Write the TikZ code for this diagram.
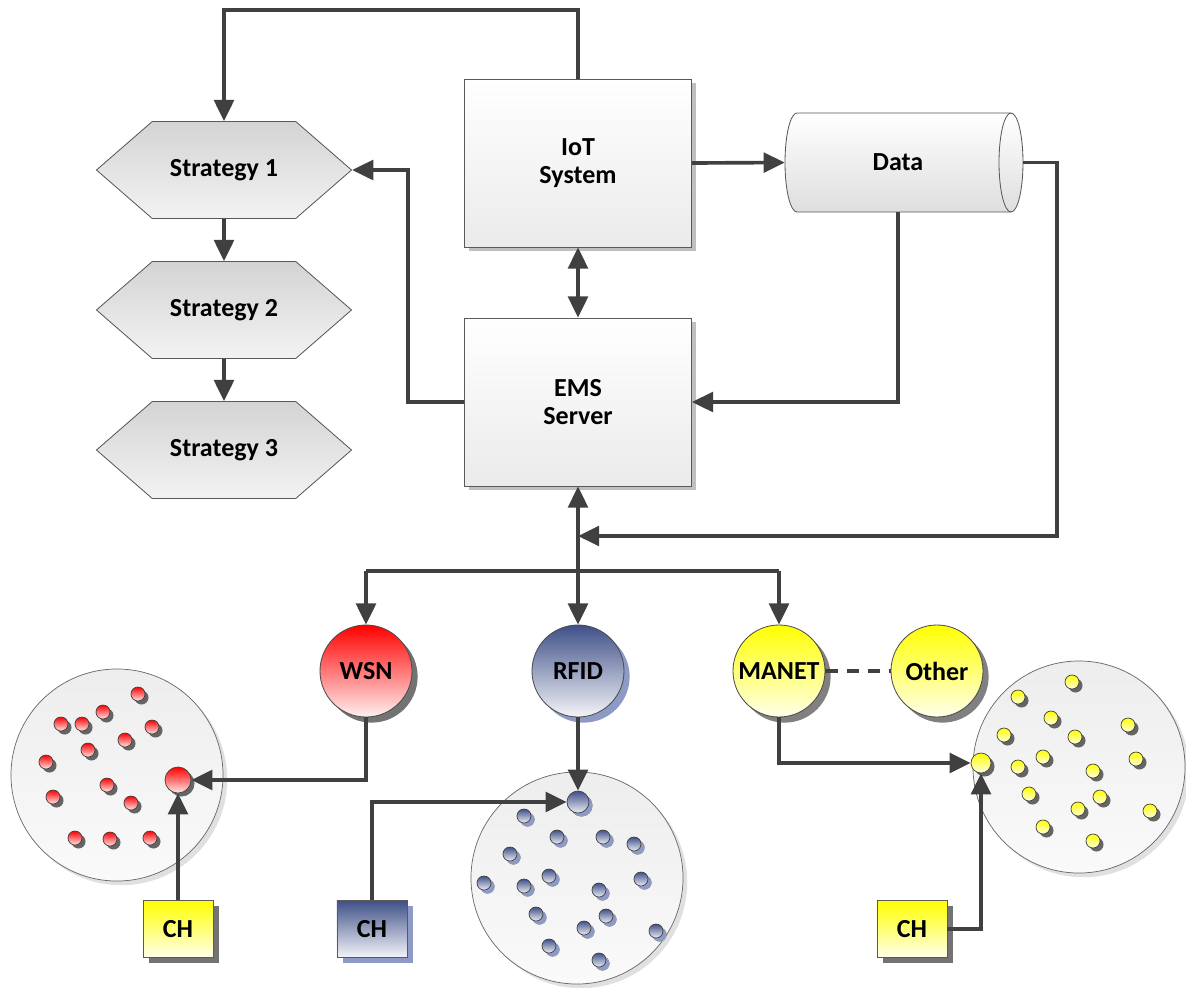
\documentclass[tikz,border=0pt]{standalone}
\usepackage{fontspec}
\setmainfont{Carlito}
\usetikzlibrary{arrows.meta,shapes.symbols,shadows,calc}
\definecolor{ln}{HTML}{404040}
\definecolor{rfidtop}{HTML}{3F5089}
\definecolor{rfidsh}{HTML}{8E9AC6}
\definecolor{yel}{HTML}{FFFF00}
\begin{document}
\begin{tikzpicture}[x=0.025cm,y=-0.025cm,
  font=\fontsize{18.5}{20}\selectfont\bfseries,
  conn/.style={draw=ln,line width=2.6pt},
  arr/.style={conn,-{Triangle[length=15pt,width=14pt]}},
  darr/.style={conn,{Triangle[length=15pt,width=14pt]}-{Triangle[length=15pt,width=14pt]}},
  hexa/.style={signal,signal to=east and west,signal pointer angle=82,draw=black!65,line width=0.6pt,
     minimum width=6.375cm,minimum height=2.425cm,inner sep=0pt,top color=black!17,bottom color=black!5,align=center},
  sbox/.style={rectangle,draw=black!65,line width=0.6pt,minimum width=5.675cm,minimum height=4.2cm,
     top color=white,bottom color=black!8,align=center,
     drop shadow={shadow xshift=3pt,shadow yshift=-3pt,opacity=0.25,fill=black}},
  net/.style={circle,draw=black!70,line width=0.6pt,minimum size=2.3cm,inner sep=0pt},
  wsnst/.style={net,top color=red,bottom color=red!6,drop shadow={shadow xshift=4pt,shadow yshift=-4pt,fill=black!55,opacity=1}},
  rfidst/.style={net,top color=rfidtop,bottom color=rfidtop!6,drop shadow={shadow xshift=4pt,shadow yshift=-4pt,fill=rfidsh,opacity=1}},
  yelst/.style={net,top color=yel,bottom color=yel!8,drop shadow={shadow xshift=4pt,shadow yshift=-4pt,fill=black!50,opacity=1}},
  clus/.style={circle,draw=black!60,line width=0.5pt,minimum size=5.3cm,top color=black!7,bottom color=black!2,
     drop shadow={shadow xshift=3pt,shadow yshift=-3pt,opacity=0.12,fill=black}},
  dot/.style={circle,draw=black!75,line width=0.5pt,minimum size=0.35cm,inner sep=0pt,
     drop shadow={shadow xshift=2.5pt,shadow yshift=-2.5pt,fill=black!70,opacity=0.85}},
  rdot/.style={dot,top color=red,bottom color=red!10},
  bdot/.style={dot,top color=rfidtop,bottom color=rfidtop!10,drop shadow={shadow xshift=2.5pt,shadow yshift=-2.5pt,fill=rfidsh,opacity=1}},
  ydot/.style={dot,top color=yel,bottom color=yel!12},
  chbox/.style={rectangle,draw=black!65,line width=0.6pt,minimum width=1.75cm,minimum height=1.425cm,inner sep=0pt},
  chy/.style={chbox,top color=yel,bottom color=yel!8,drop shadow={shadow xshift=4pt,shadow yshift=-4pt,fill=black!55,opacity=1}},
  chb/.style={chbox,top color=rfidtop,bottom color=rfidtop!6,drop shadow={shadow xshift=4pt,shadow yshift=-4pt,fill=rfidsh,opacity=1}}
]
\useasboundingbox (0,0) rectangle (1186,988);

% strategies
\node[hexa] (s1) at (224,170) {Strategy 1};
\node[hexa] (s2) at (224,310) {Strategy 2};
\node[hexa] (s3) at (224,450) {Strategy 3};

% boxes
\node[sbox] (iot) at (578,163) {IoT\\System};
\node[sbox] (ems) at (578,402) {EMS\\Server};

% data cylinder
\path[top color=white,bottom color=black!13,draw=black!65,line width=0.6pt]
  (797,113) -- (1011,113) arc(-90:90:12 and 49.5) -- (797,212) arc(90:270:12 and 49.5) -- cycle;
\draw[black!65,line width=0.6pt] (1011,113) arc(-90:-270:12 and 49.5);
\node[minimum width=5.65cm,minimum height=2.475cm,inner sep=0pt] (data) at (898,162.5) {Data};
\coordinate (dataR) at (1023,162.5);

% networks
\node[wsnst] (wsn) at (366,671) {WSN};
\node[rfidst] (rfid) at (578,671) {RFID};
\node[yelst] (manet) at (779,671) {MANET};
\node[yelst] (other) at (937,671) {Other};

% clusters
\node[clus] (cl1) at (117,775) {};
\node[clus] (cl2) at (577,878) {};
\node[clus] (cl3) at (1079,767) {};

\foreach \p [count=\i] in {(138,694),(103,712),(61,724),(82,724),(152,727),(125,740),(88,750),(46,762),(107,785),(53,797),(131,803),(75,838),(110,839),(150,838)}
  \node[rdot] (r\i) at \p {};
\node[rdot,minimum size=0.65cm] (rbig) at (178,780) {};

\foreach \p [count=\i] in {(524,816),(557,837),(603,837),(634,844),(510,854),(484,883),(524,886),(549,876),(599,890),(641,879),(536,914),(606,916),(584,928),(656,931),(549,946),(599,960)}
  \node[bdot] (b\i) at \p {};
\node[bdot,minimum size=0.55cm] (bbig) at (578,802) {};

\foreach \p [count=\i] in {(1072,682),(1018,697),(1051,718),(1128,725),(1004,735),(1075,737),(1043,757),(1018,767),(1136,759),(1093,771),(1029,794),(1100,797),(1078,809),(1150,811),(1043,827),(1093,841)}
  \node[ydot] (y\i) at \p {};
\node[ydot,minimum size=0.5cm] (ybig) at (981,763) {};

% CH boxes
\node[chy] (ch1) at (178,929) {CH};
\node[chb] (ch2) at (372,929) {CH};
\node[chy] (ch3) at (912,929) {CH};

% connectors
\draw[arr] (iot.north) -- (iot.north |- 0,10) -| (s1.north);
\draw[arr] (s1.south) -- (s2.north);
\draw[arr] (s2.south) -- (s3.north);
\draw[arr] (ems.west) -- ++(-56,0) |- (s1.east);
\draw[darr] (iot.south) -- (ems.north);
\draw[arr] (iot.east) -- (data.west);
\coordinate (junc) at (ems.south |- 0,536);
\draw[arr] (dataR) -- ++(34,0) |- (junc);
\draw[arr] (data.south) |- (ems.east);
\draw[darr] (ems.south) -- (rfid.north);
\coordinate (busL) at (wsn.north |- 0,571);
\coordinate (busR) at (manet.north |- 0,571);
\draw[conn] (busL) -- (busR);
\draw[arr] (busL) -- (wsn.north);
\draw[arr] (busR) -- (manet.north);
\draw[conn,dash pattern=on 9pt off 6pt] (manet.east) -- (other.west);
\draw[arr] (wsn.south) |- (rbig.east);
\draw[arr] (ch1.north) -- (rbig.south);
\draw[arr] (rfid.south) -- (bbig.north);
\draw[arr] (ch2.north) |- (bbig.west);
\draw[arr] (manet.south) |- (ybig.west);
\draw[arr] (ch3.east) -| (ybig.south);
\end{tikzpicture}
\end{document}
